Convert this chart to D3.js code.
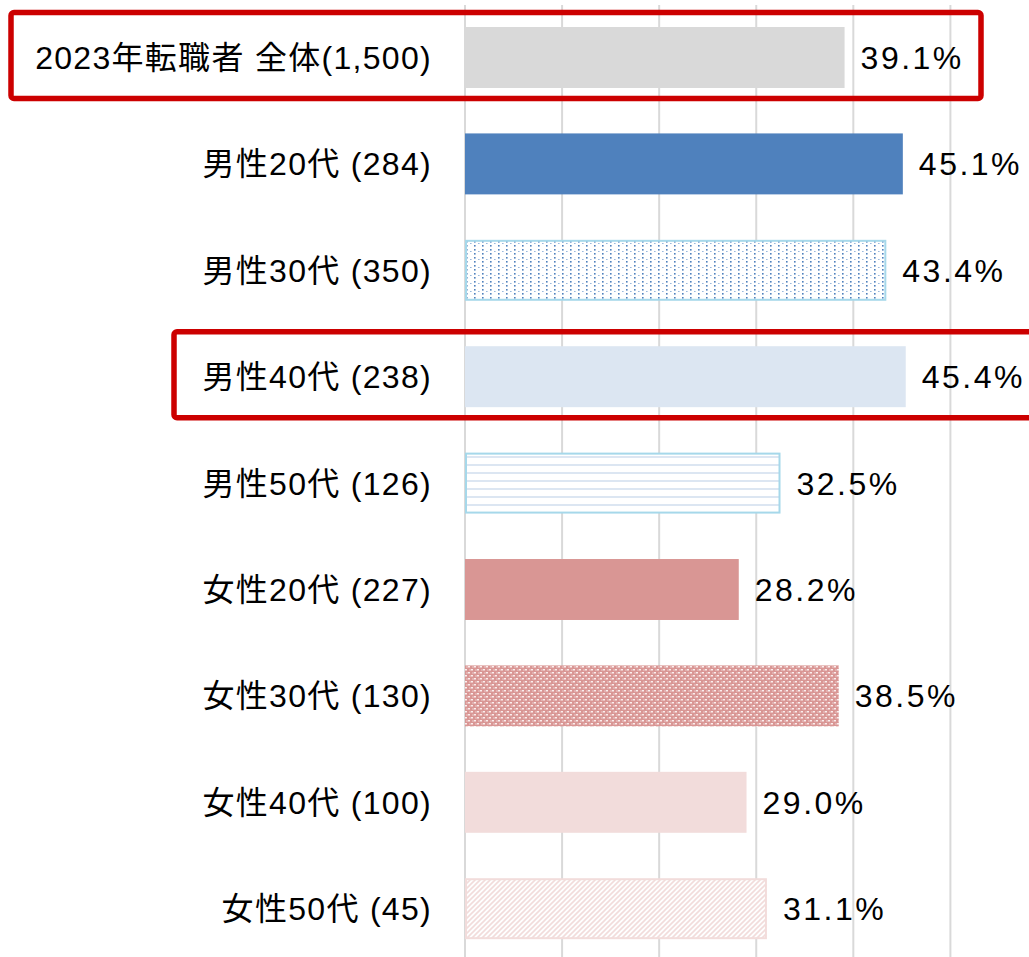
<!DOCTYPE html>
<html lang="ja">
<head>
    <meta charset="UTF-8">
    <title>転職者 割合</title>
    <script src="https://d3js.org/d3.v7.min.js"></script>
    <style>
        body { margin: 0; background: #fff; }
        text { font-family: "Liberation Sans", Arial, "Noto Sans CJK JP", sans-serif; }
    </style>
</head>
<body>
    <div id="my_dataviz"></div>

    <script>
        // data
        var categories = ["2023年転職者 全体(1,500)", "男性20代 (284)", "男性30代 (350)", "男性40代 (238)", "男性50代 (126)",
                          "女性20代 (227)", "女性30代 (130)", "女性40代 (100)", "女性50代 (45)"];
        var values = [39.1, 45.1, 43.4, 45.4, 32.5, 28.2, 38.5, 29.0, 31.1];
        var gridTicks = [0, 10, 20, 30, 40, 50];
        var highlighted = ["2023年転職者 全体(1,500)", "男性40代 (238)"];

        // fill + border per bar (pattern ids defined below)
        var barFills = ["#d9d9d9", "#4f81bd", "url(#dots)", "#dce6f2", "url(#hstripe)",
                        "#d99694", "url(#check)", "#f2dcdb", "url(#diag)"];
        var barStrokes = [null, null, "#a6d8ea", null, "#a6d8ea", null, null, null, "#f2dcdb"];

        var width = 1029, height = 957;
        var x0 = 465;

        var svg = d3.select("#my_dataviz")
            .append("svg")
            .attr("width", width)
            .attr("height", height);

        // patterns
        var defs = svg.append("defs");

        var dots = defs.append("pattern").attr("id", "dots")
            .attr("patternUnits", "userSpaceOnUse").attr("width", 8).attr("height", 8);
        dots.append("rect").attr("width", 8).attr("height", 8).attr("fill", "#fff");
        dots.append("rect").attr("x", 2).attr("y", 1).attr("width", 1.6).attr("height", 1.6).attr("fill", "#4f81bd");
        dots.append("rect").attr("x", 2).attr("y", 5).attr("width", 1.6).attr("height", 1.6).attr("fill", "#4f81bd");
        dots.append("rect").attr("x", 6).attr("y", 3).attr("width", 1.6).attr("height", 1).attr("fill", "#9ab8dc");

        var hstripe = defs.append("pattern").attr("id", "hstripe")
            .attr("patternUnits", "userSpaceOnUse").attr("width", 8).attr("height", 8);
        hstripe.append("rect").attr("width", 8).attr("height", 8).attr("fill", "#fff");
        hstripe.append("rect").attr("y", 0).attr("width", 8).attr("height", 2).attr("fill", "#dce6f2");

        var check = defs.append("pattern").attr("id", "check")
            .attr("patternUnits", "userSpaceOnUse").attr("width", 6).attr("height", 6);
        check.append("rect").attr("width", 6).attr("height", 6).attr("fill", "#d99694");
        check.append("rect").attr("x", 0).attr("y", 0).attr("width", 2).attr("height", 1.5).attr("fill", "#fbeeee");
        check.append("rect").attr("x", 3).attr("y", 3).attr("width", 2).attr("height", 1.5).attr("fill", "#fbeeee");
        check.append("rect").attr("x", 4.5).attr("y", 0.5).attr("width", 1).attr("height", 1).attr("fill", "#ffffff");
        check.append("rect").attr("x", 1.5).attr("y", 3.5).attr("width", 1).attr("height", 1).attr("fill", "#ffffff");

        var diag = defs.append("pattern").attr("id", "diag")
            .attr("patternUnits", "userSpaceOnUse").attr("width", 5).attr("height", 5);
        diag.append("rect").attr("width", 5).attr("height", 5).attr("fill", "#fff");
        diag.append("path").attr("d", "M-1,6 L6,-1 M-1,1 L1,-1 M4,6 L6,4")
            .attr("stroke", "#f2dcdb").attr("stroke-width", 1.6);

        // scales
        var x = d3.scaleLinear()
            .domain([0, 50])
            .range([x0, x0 + 485.4]);

        var y = d3.scaleBand()
            .domain(categories)
            .range([4.3, 4.3 + 9 * 106.4])
            .paddingInner(0.427)
            .paddingOuter(0.2135);

        // vertical gridlines
        svg.append("g")
            .selectAll("line")
            .data(gridTicks)
            .enter()
            .append("line")
            .attr("x1", function(d) { return x(d); })
            .attr("x2", function(d) { return x(d); })
            .attr("y1", 5)
            .attr("y2", height)
            .attr("stroke", "#d9d9d9")
            .attr("stroke-width", 2);

        // bars
        svg.append("g")
            .selectAll("rect")
            .data(values)
            .enter()
            .append("rect")
            .attr("x", function(d, i) { return barStrokes[i] ? x(0) + 1 : x(0); })
            .attr("y", function(d, i) { return barStrokes[i] ? y(categories[i]) + 1 : y(categories[i]); })
            .attr("width", function(d, i) { return x(d) - x(0) - (barStrokes[i] ? 2 : 0); })
            .attr("height", function(d, i) { return y.bandwidth() - (barStrokes[i] ? 2 : 0); })
            .attr("fill", function(d, i) { return barFills[i]; })
            .attr("stroke", function(d, i) { return barStrokes[i] || "none"; })
            .attr("stroke-width", 2);

        // category labels
        svg.append("g")
            .selectAll("text")
            .data(categories)
            .enter()
            .append("text")
            .attr("x", x0 - 33)
            .attr("y", function(d) { return y(d) + y.bandwidth() / 2; })
            .attr("dy", "0.36em")
            .attr("text-anchor", "end")
            .attr("font-size", 32)
            .attr("letter-spacing", 1.3)
            .attr("fill", "#000")
            .text(function(d) { return d; });

        // value labels
        svg.append("g")
            .selectAll("text")
            .data(values)
            .enter()
            .append("text")
            .attr("x", function(d) { return x(d) + 16; })
            .attr("y", function(d, i) { return y(categories[i]) + y.bandwidth() / 2; })
            .attr("dy", "0.36em")
            .attr("font-size", 32)
            .attr("letter-spacing", 2.5)
            .attr("fill", "#000")
            .text(function(d) { return d.toFixed(1) + "%"; });

        // red highlight frames
        var boxLeft = { "2023年転職者 全体(1,500)": 11, "男性40代 (238)": 174 };
        var boxRight = { "2023年転職者 全体(1,500)": 981, "男性40代 (238)": 1040 };
        svg.append("g")
            .selectAll("rect")
            .data(highlighted)
            .enter()
            .append("rect")
            .attr("x", function(d) { return boxLeft[d]; })
            .attr("y", function(d) { return y(d) - 14.5; })
            .attr("width", function(d) { return boxRight[d] - boxLeft[d]; })
            .attr("height", function(d) { return y.bandwidth() + 25; })
            .attr("rx", 3)
            .attr("fill", "none")
            .attr("stroke", "#cc0000")
            .attr("stroke-width", 5.5);
    </script>
</body>
</html>
